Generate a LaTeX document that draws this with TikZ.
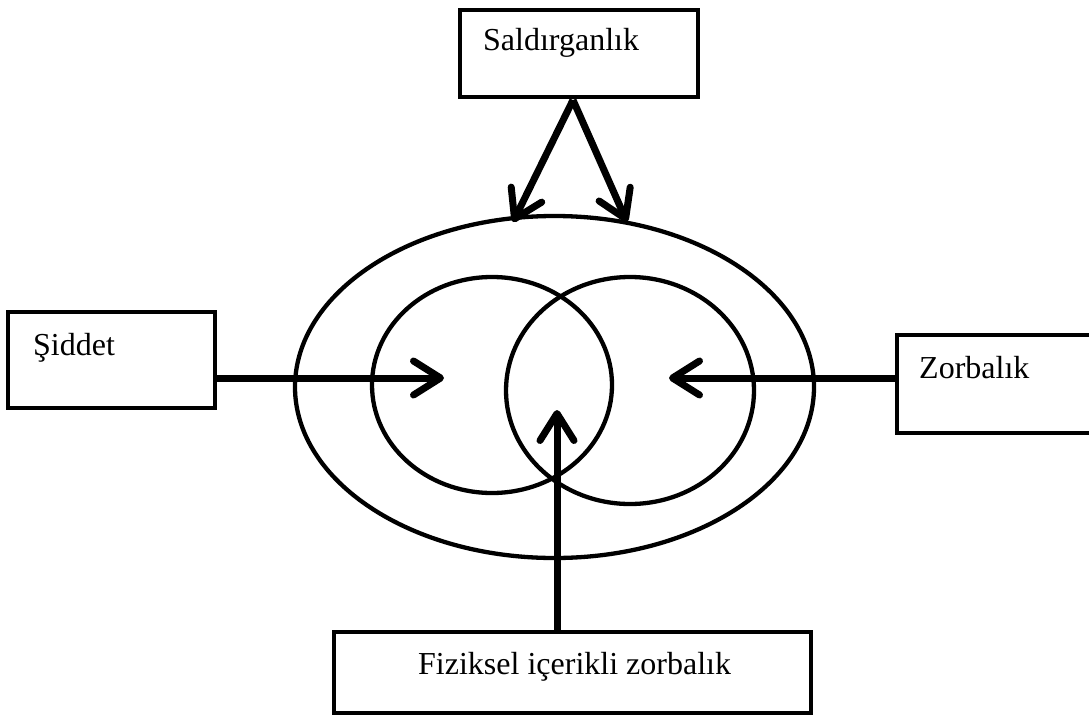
\documentclass[tikz,border=0pt]{standalone}
\usepackage{fontspec}
\setmainfont{Liberation Serif}
\usetikzlibrary{arrows.meta,shapes.geometric}
\begin{document}
\begin{tikzpicture}[x=1pt,y=-1pt,
  box/.style={draw,line width=4.5pt,rectangle,inner sep=0pt,outer sep=0pt},
  lbl/.style={anchor=base west,inner sep=0pt,font=\fontsize{32}{38}\selectfont},
  ring/.style={draw,line width=4.3pt,ellipse,inner sep=0pt,outer sep=0pt},
  conn/.style={line width=7pt,line cap=butt,-{Straight Barb[length=27pt,width=34pt,round]}}
]
\useasboundingbox (0,0) rectangle (1089,717);
% boxes
\node[box,minimum width=238pt,minimum height=87pt] (sal) at (579,53.5) {};
\node[lbl] (saltxt) at (483,51) {Saldırganlık};
\node[box,minimum width=207pt,minimum height=96pt] (sid) at (111.5,360) {};
\node[lbl] (sidtxt) at (33,355) {Şiddet};
\node[box,minimum width=210pt,minimum height=98pt] (zor) at (1002,384) {};
\node[lbl] (zortxt) at (919,378) {Zorbalık};
\node[box,minimum width=477pt,minimum height=81pt] (fiz) at (572.5,672.5) {};
\node[lbl] (fiztxt) at (418,674) {Fiziksel içerikli zorbalık};
% ellipses
\node[ring,minimum width=519pt,minimum height=342pt] (outer) at (554.5,387) {};
\node[ring,minimum width=240pt,minimum height=216pt] (lc) at (492,385) {};
\node[ring,minimum width=248pt,minimum height=227pt] (rc) at (630,390.5) {};
% arrow targets
\coordinate (apex) at (573,100);
\coordinate (t1) at (513,222);
\coordinate (t2) at (627,222);
\coordinate (tl) at (444,378);
\coordinate (tr) at (669,378);
\coordinate (tb) at (557,410);
\draw[conn] (apex) -- (t1);
\draw[conn] (apex) -- (t2);
\draw[conn] (sid.east |- tl) -- (tl);
\draw[conn] (zor.west |- tr) -- (tr);
\draw[conn] (fiz.north -| tb) -- (tb);
\end{tikzpicture}
\end{document}
